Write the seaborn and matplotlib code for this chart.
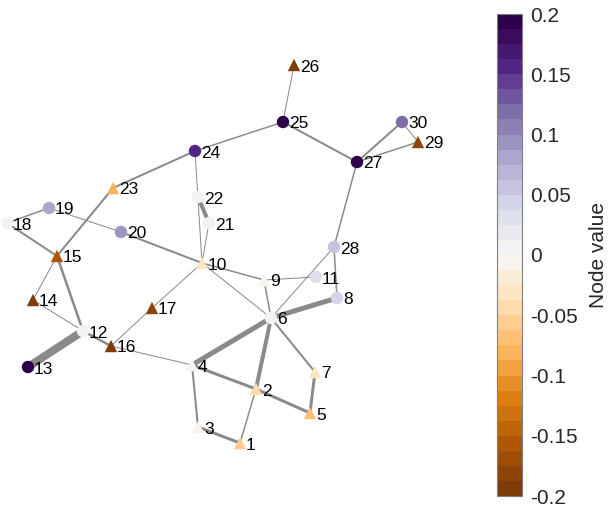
import numpy as np
import pandas as pd
import matplotlib
matplotlib.use("Agg")
import matplotlib.pyplot as plt
import seaborn as sns
from matplotlib.colors import ListedColormap, Normalize
from matplotlib.collections import LineCollection

sns.set_theme(style="white")
plt.rcParams['font.family'] = ['Liberation Sans', 'DejaVu Sans']
plt.rcParams['axes.unicode_minus'] = False

# Node ids, layout positions and values
node_ids = list(range(1, 31))
node_x = [240, 256, 198, 192, 310, 271, 315, 337, 264, 202,
          316, 83, 28, 33, 57, 111, 152, 7, 49, 121,
          209, 198, 113, 195, 283, 294, 357, 334, 418, 402]
node_y = [443, 389, 427, 365, 413, 318, 372, 298, 280, 263,
          277, 331, 367, 300, 256, 346, 308, 223, 208, 232,
          223, 197, 188, 151, 122, 65, 162, 247, 142, 122]
node_value = [-0.06, -0.05, -0.01, -0.01, -0.07, 0.01, -0.03, 0.04, -0.01, -0.035,
              0.03, 0.005, 0.2, -0.19, -0.16, -0.19, -0.18, 0.005, 0.08, 0.09,
              0.005, 0.01, -0.08, 0.16, 0.2, -0.19, 0.2, 0.06, -0.18, 0.12]

# Edges and weights
edge_src = [26, 25, 25, 27, 27, 30, 27, 24, 24, 22, 21, 23, 19, 18, 19, 20, 15, 15, 14, 12,
            12, 16, 17, 16, 10, 10, 9, 9, 6, 28, 6, 6, 6, 6, 2, 4, 2, 5, 4, 3]
edge_dst = [25, 24, 27, 30, 29, 29, 28, 23, 10, 21, 10, 15, 18, 15, 20, 10, 14, 12, 12, 16,
            13, 17, 10, 4, 9, 6, 11, 6, 28, 8, 8, 4, 2, 7, 1, 2, 5, 7, 3, 1]
edge_weight = [1, 1.5, 2, 2, 1.5, 1, 1.5, 2, 1, 4, 1, 2, 1.5, 2, 1, 2, 1, 2.5, 1, 2.5,
               8, 1, 1, 1, 1.5, 1, 1, 1.5, 1, 1.5, 5, 5, 4, 2, 1.5, 3, 3, 3, 2, 3]

df = pd.DataFrame({"id": node_ids, "x": node_x, "y": node_y, "value": node_value})
df["shape"] = np.where(df["value"] < 0, "tri", "circ")

cmap = ListedColormap(plt.get_cmap("PuOr")(np.linspace(0, 1, 32)))
norm = Normalize(vmin=-0.2, vmax=0.2)

fig = plt.figure(figsize=(6.12, 5.08), dpi=100)
ax = fig.add_axes([0, 0, 450 / 612, 1])

pos = {i: (x, y) for i, x, y in zip(node_ids, node_x, node_y)}
segs = [[pos[s], pos[d]] for s, d in zip(edge_src, edge_dst)]
lc = LineCollection(segs, linewidths=[w * 0.72 for w in edge_weight],
                    colors="#8a8a8a", zorder=1)
ax.add_collection(lc)

sns.scatterplot(data=df, x="x", y="y", hue="value", palette=cmap, hue_norm=norm,
                style="shape", markers={"tri": "^", "circ": "o"}, s=80,
                linewidth=0, legend=False, ax=ax, zorder=3)

for i, x, y in zip(node_ids, node_x, node_y):
    ax.text(x + 6, y + 2, str(i), fontsize=12.5, color="black", va="center", ha="left", zorder=4)

ax.set_xlim(0, 450)
ax.set_ylim(508, 0)
ax.set_axis_off()

cax = fig.add_axes([497 / 612, 12 / 508, 25 / 612, 482 / 508])
sm = plt.cm.ScalarMappable(norm=norm, cmap=cmap)
cb = fig.colorbar(sm, cax=cax)
ticks = [-0.2, -0.15, -0.1, -0.05, 0, 0.05, 0.1, 0.15, 0.2]
cb.set_ticks(ticks)
cb.set_ticklabels(["-0.2", "-0.15", "-0.1", "-0.05", "0", "0.05", "0.1", "0.15", "0.2"])
cb.ax.tick_params(direction="in", length=4, width=0.8, color="#262626",
                  labelsize=15, labelcolor="#262626", pad=6)
cb.outline.set_edgecolor("#7f7f7f")
cb.outline.set_linewidth(0.8)
cb.set_label("Node value", fontsize=15, color="#262626", labelpad=8)

fig.savefig("out.png", dpi=100)
